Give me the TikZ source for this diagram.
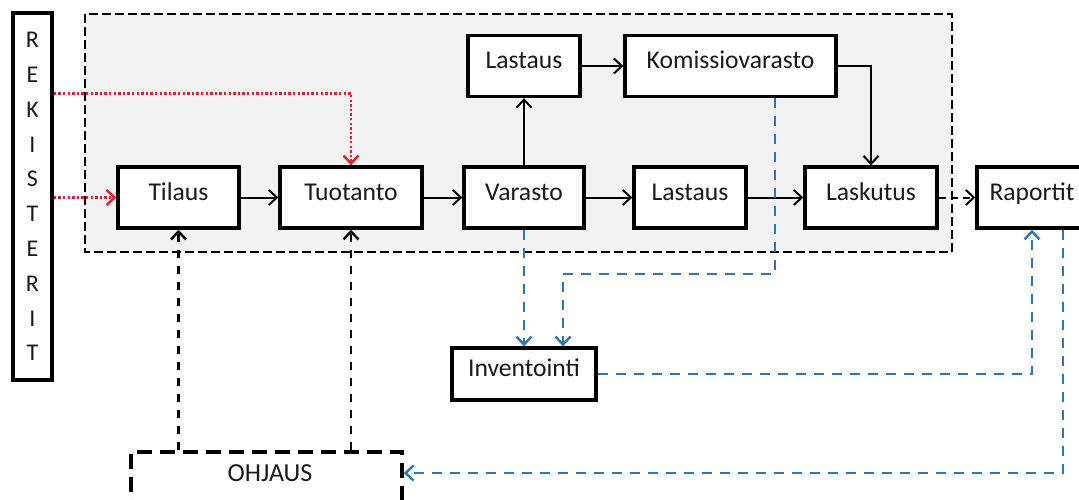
\documentclass[tikz,border=0pt]{standalone}
\usepackage{fontspec}
\setmainfont{Carlito}
\usetikzlibrary{arrows.meta,calc}
\definecolor{regfill}{HTML}{F2F2F2}
\definecolor{flowblue}{HTML}{2E75B6}
\definecolor{flowred}{HTML}{E0202A}
\definecolor{ink}{HTML}{1A1A1A}

\begin{document}
\begin{tikzpicture}[x=0.5pt,y=-0.5pt,
  >={Straight Barb[length=4pt,width=7.5pt]},
  box/.style={draw=black, line width=1.7pt, fill=white, inner sep=0pt,
    font=\fontsize{12.8}{15}\selectfont, text=ink,
    text height=8pt, text depth=5.5pt, minimum height=30.5pt},
  rekbox/.style={draw=black, line width=1.7pt, fill=white, inner sep=0pt,
    align=center, font=\fontsize{12}{17.4}\selectfont, text=ink,
    minimum width=19.5pt, minimum height=183.5pt},
  region/.style={draw=black, line width=1.1pt, dash pattern=on 4.5pt off 2pt, fill=regfill},
  ctrlbox/.style={draw=black, line width=1.8pt, dash pattern=on 7.5pt off 4pt, fill=white},
  flow/.style={->, line width=1pt, black},
  ctrl/.style={->, line width=1.2pt, black, dash pattern=on 4pt off 4pt},
  redflow/.style={->, line width=1.2pt, flowred, dash pattern=on 1.2pt off 1.1pt},
  blueflow/.style={->, line width=1.2pt, flowblue, dash pattern=on 5pt off 4pt}
]
\useasboundingbox (0,0) rectangle (1079,499);
\clip (0,0) rectangle (1079,499);

% process area
\draw[region] (85,14) rectangle (952,252);

% registers column
\node[rekbox] (rek) at (32.5,196.5) {R\\E\\K\\I\\S\\T\\E\\R\\I\\T};

% main flow boxes
\node[box, minimum width=60.5pt] (tilaus)   at (178.5,197.5) {Tilaus};
\node[box, minimum width=71pt]   (tuotanto) at (351,197.5)   {Tuotanto};
\node[box, minimum width=60pt]   (varasto)  at (524,197.5)   {Varasto};
\node[box, minimum width=56pt]   (lastausb) at (690,197.5)   {Lastaus};
\node[box, minimum width=66pt]   (laskutus) at (871,197.5)   {Laskutus};
\node[box, minimum width=55pt]   (raportit) at (1032,197.5)  {Raportit};
\node[box, minimum width=56pt]   (lastaust) at (524,66)      {Lastaus};
\node[box, minimum width=105.5pt] (komissio) at (730.5,66)   {Komissiovarasto};
\node[box, minimum width=72pt, minimum height=26pt] (inventointi) at (524,374) {Inventointi};

% control box
\node[ctrlbox, minimum width=135.5pt, minimum height=50pt, anchor=north] (ohjaus) at (266.5,450) {};
\node[font=\fontsize{13}{15}\selectfont, text=ink, inner sep=0pt] (ohjaustext) at (270,473) {OHJAUS};

% register links
\path (rek.north east) ++(0,82) coordinate (rekA);
\draw[redflow] (rekA) -| (tuotanto.north);
\draw[redflow] (rek.east |- tilaus.west) -- (tilaus.west);

% material flow
\draw[flow] (tilaus.east) -- (tuotanto.west);
\draw[flow] (tuotanto.east) -- (varasto.west);
\draw[flow] (varasto.east) -- (lastausb.west);
\draw[flow] (lastausb.east) -- (laskutus.west);
\draw[flow] (varasto.north) -- (lastaust.south);
\draw[flow] (lastaust.east) -- (komissio.west);
\draw[flow] (komissio.east) -| (laskutus.north);
\draw[flow, dash pattern=on 3.5pt off 2.5pt] (laskutus.east) -- (raportit.west);

% control links
\draw[ctrl] (ohjaus.north -| tilaus.south) -- (tilaus.south);
\draw[ctrl] (ohjaus.north -| tuotanto.south) -- (tuotanto.south);

% information flow
\draw[blueflow] (varasto.south) -- (inventointi.north);
\draw[blueflow] ($(komissio.south)+(44.5,0)$) -- ++(0,176) -| ($(inventointi.north)+(39,0)$);
\draw[blueflow] (inventointi.east) -| (raportit.south);
\draw[blueflow] ($(raportit.south)+(31,0)$) |- ($(ohjaus.north east)+(0,23)$);
\end{tikzpicture}
\end{document}
